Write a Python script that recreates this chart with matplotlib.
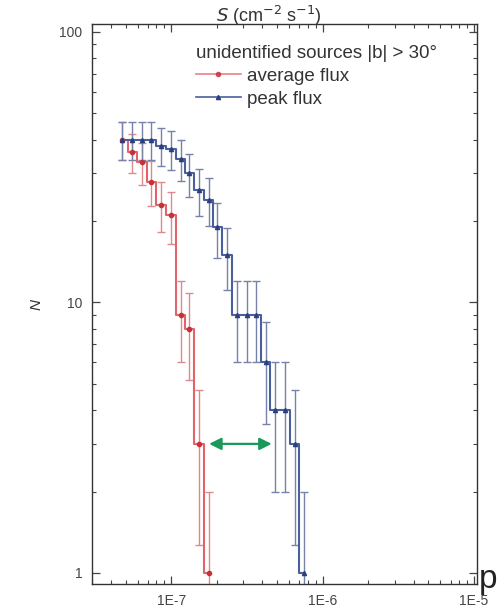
import numpy as np
import matplotlib
matplotlib.use("Agg")
import matplotlib.pyplot as plt
from matplotlib.lines import Line2D
from matplotlib.ticker import FixedLocator, LogLocator, FuncFormatter, NullFormatter

plt.rcParams["font.family"] = ["Liberation Sans", "DejaVu Sans"]

# flux bins (cm^-2 s^-1) and cumulative number of sources
flux = [4.77e-8, 5.54e-8, 6.44e-8, 7.38e-8, 8.59e-8, 1.0e-7, 1.16e-7, 1.31e-7,
        1.53e-7, 1.78e-7, 2.01e-7, 2.34e-7, 2.72e-7, 3.16e-7, 3.62e-7, 4.22e-7,
        4.83e-7, 5.62e-7, 6.54e-7, 7.50e-7]
n_avg = [40, 36, 33, 28, 23, 21, 9, 8, 3, 1]
n_peak = [40, 40, 40, 40, 38, 37, 34, 30, 26, 24, 19, 15, 9, 9, 9, 6, 4, 4, 3, 1]
arrow_x = [1.78e-7, 4.61e-7]
arrow_y = 3

fig = plt.figure(figsize=(4.98, 6.13), dpi=100)
ax = fig.add_axes([0.1847, 0.0473, 0.7733, 0.9135])

red_line, red_err = "#e2646a", "#dc8a8c"
blue_line, blue_err = "#4a609e", "#7882a8"

s_avg = np.array(flux[:len(n_avg)])
na = np.array(n_avg, dtype=float)
s_pk = np.array(flux)
npk = np.array(n_peak, dtype=float)

ax.errorbar(s_avg, na, yerr=np.sqrt(na), fmt="none", ecolor=red_err, elinewidth=1.0, capsize=3, capthick=1.0, zorder=2)
ax.errorbar(s_pk, npk, yerr=np.sqrt(npk), fmt="none", ecolor=blue_err, elinewidth=1.0, capsize=3, capthick=1.0, zorder=2)

ax.plot(s_avg, na, drawstyle="steps-mid", color=red_line, lw=1.5, zorder=3)
ax.plot(s_pk, npk, drawstyle="steps-mid", color=blue_line, lw=1.5, zorder=3)
ax.plot(s_avg, na, "o", color="#c8303a", ms=3, zorder=4)
ax.plot(s_pk, npk, "^", color="#2c3f80", ms=3, zorder=4)

ax.annotate("", xy=(arrow_x[0], arrow_y), xytext=(arrow_x[1], arrow_y),
            arrowprops=dict(arrowstyle="<|-|>", color="#1a9a5a", lw=1.6,
                            mutation_scale=18, shrinkA=0, shrinkB=0), zorder=5)

ax.set_xscale("log")
ax.set_yscale("log")
ax.set_xlim(3.0e-8, 1.047e-5)
ax.set_ylim(0.91, 107)

ax.xaxis.set_major_locator(FixedLocator([1e-7, 1e-6, 1e-5]))
ax.xaxis.set_minor_locator(LogLocator(base=10, subs=np.arange(2, 10)))
ax.xaxis.set_major_formatter(FuncFormatter(lambda v, p: "1E%d" % round(np.log10(v))))
ax.xaxis.set_minor_formatter(NullFormatter())
ax.yaxis.set_major_locator(FixedLocator([1, 10, 100]))
ax.yaxis.set_minor_locator(LogLocator(base=10, subs=np.arange(2, 10)))
ax.yaxis.set_major_formatter(FuncFormatter(lambda v, p: "%d" % round(v)))
ax.yaxis.set_minor_formatter(NullFormatter())

ax.tick_params(which="both", direction="in", top=True, right=True, colors="#444444", labelsize=10)
ax.tick_params(which="major", length=6, width=0.9, pad=7)
ax.tick_params(which="minor", length=3, width=0.8)
for sp in ax.spines.values():
    sp.set_color("#333333")
    sp.set_linewidth(1.0)

ax.set_ylabel("N", fontstyle="italic", fontsize=11, color="#333333")
ax.yaxis.set_label_coords(-0.127, 0.5)

fig.text(0.54, 0.994, r"$S$ (cm$^{-2}$ s$^{-1}$)", ha="center", va="top", fontsize=13, color="#333333")
fig.text(0.962, 0.04, "p", fontsize=24, color="#222222", ha="left", va="baseline")

handles = [Line2D([], [], color=red_line, lw=1.2, marker="o", ms=3, markerfacecolor="#c8303a", markeredgecolor="#c8303a", alpha=0.8),
           Line2D([], [], color=blue_line, lw=1.2, marker="^", ms=3, markerfacecolor="#2c3f80", markeredgecolor="#2c3f80")]
leg = ax.legend(handles, ["average flux", "peak flux"], title="unidentified sources |b| > 30°",
                loc="upper left", bbox_to_anchor=(0.27, 0.962), frameon=False, fontsize=13.5,
                title_fontsize=13.5, handlelength=2.4, handletextpad=0.3, borderpad=0,
                borderaxespad=0, labelspacing=0.3, alignment="left")
for t in leg.get_texts():
    t.set_color("#333333")
leg.get_title().set_color("#333333")

fig.savefig("out.png", dpi=100)
